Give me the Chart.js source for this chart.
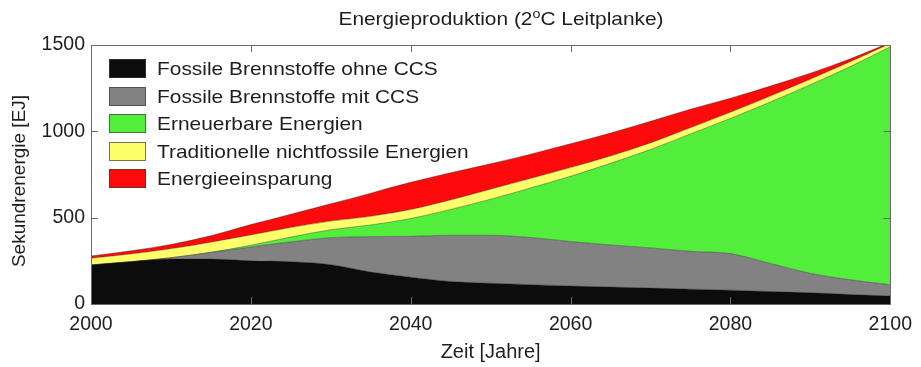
<!DOCTYPE html>
<html>
<head>
<meta charset="utf-8">
<script src="https://cdn.jsdelivr.net/npm/chart.js@4.4.1/dist/chart.umd.min.js"></script>
<style>
  html, body { margin: 0; padding: 0; background: #fff; }
  #wrap { width: 921px; height: 367px; }
</style>
</head>
<body>
<div id="wrap"><canvas id="c" width="921" height="367"></canvas></div>
<script>
// Secondary energy by source, EJ per year (stacked)
const years = [2000, 2005, 2010, 2015, 2020, 2025, 2030, 2035, 2040, 2045, 2050,
               2055, 2060, 2065, 2070, 2075, 2080, 2085, 2090, 2095, 2100];
const fossilOhneCCS = [226, 245, 260, 260, 250, 245, 228, 185, 155, 130, 120,
                       112, 104, 98, 92, 86, 80, 72, 65, 55, 46];
const fossilMitCCS  = [0, 0, 8, 38, 80, 115, 156, 205, 237, 268, 278,
                       273, 258, 244, 233, 219, 212, 163, 113, 85, 66];
const erneuerbar    = [0, 0, 0, 2, 10, 28, 46, 68, 103, 150, 209,
                       287, 378, 473, 570, 680, 783, 935, 1092, 1235, 1378];
const traditionell  = [39, 45, 52, 58, 60, 55, 50, 50, 52, 55, 58,
                       55, 50, 42, 38, 36, 35, 34, 32, 28, 18];
const einsparung    = [13, 18, 25, 37, 60, 77, 100, 134, 158, 157, 147,
                       141, 138, 133, 125, 107, 82, 58, 35, 17, 7];

const seriesNames = [
  'Fossile Brennstoffe ohne CCS',
  'Fossile Brennstoffe mit CCS',
  'Erneuerbare Energien',
  'Traditionelle nichtfossile Energien',
  'Energieeinsparung'
];
const seriesColors = ['#0c0c0c', '#828282', '#53ee3b', '#ffff6a', '#fe0a0a'];
const seriesValues = [fossilOhneCCS, fossilMitCCS, erneuerbar, traditionell, einsparung];

const xTicks = [2000, 2020, 2040, 2060, 2080, 2100];
const yTicks = [0, 500, 1000, 1500];

const FONT = '"Liberation Sans", Arial, Helvetica, sans-serif';
const TEXT = '#1e1e1e';

const datasets = seriesValues.map((vals, i) => ({
  label: seriesNames[i],
  data: years.map((yr, k) => ({ x: yr, y: vals[k] })),
  backgroundColor: seriesColors[i],
  borderColor: 'rgba(30,30,30,0.55)',
  borderWidth: 0.7,
  pointRadius: 0,
  fill: i === 0 ? 'origin' : '-1',
  cubicInterpolationMode: 'monotone'
}));

// Title with superscript "o" in 2°C, plus the rotated y-axis label
const titlePlugin = {
  id: 'plotTitle',
  afterDraw(chart) {
    const ctx = chart.ctx;
    const sx = 1.1;
    const parts = [
      { t: 'Energieproduktion (2', size: 19, dy: 0 },
      { t: 'o', size: 13, dy: -7 },
      { t: 'C Leitplanke)', size: 19, dy: 0 }
    ];
    ctx.save();
    let w = 0;
    parts.forEach(p => { ctx.font = p.size + 'px ' + FONT; p.w = ctx.measureText(p.t).width; w += p.w; });
    const cx = 501, base = 25;
    ctx.translate(cx - (w * sx) / 2, base);
    ctx.scale(sx, 1);
    ctx.fillStyle = TEXT;
    ctx.textBaseline = 'alphabetic';
    let x = 0;
    parts.forEach(p => {
      ctx.font = p.size + 'px ' + FONT;
      ctx.fillText(p.t, x, p.dy);
      x += p.w;
    });
    ctx.restore();

    ctx.save();
    ctx.translate(20, 181);
    ctx.rotate(-Math.PI / 2);
    ctx.font = '19px ' + FONT;
    ctx.fillStyle = TEXT;
    ctx.textAlign = 'center';
    ctx.textBaseline = 'middle';
    ctx.fillText('Sekundrenergie [EJ]', 0, 0);
    ctx.restore();
  }
};

// Axes box with inward tick marks on all four sides
const boxPlugin = {
  id: 'axesBox',
  afterDatasetsDraw(chart) {
    const { ctx, chartArea: a, scales } = chart;
    const len = 7;
    ctx.save();
    ctx.strokeStyle = '#6a6a6a';
    ctx.lineWidth = 1;
    ctx.beginPath();
    xTicks.forEach(v => {
      const px = Math.round(scales.x.getPixelForValue(v)) + 0.5;
      ctx.moveTo(px, a.bottom); ctx.lineTo(px, a.bottom - len);
      ctx.moveTo(px, a.top); ctx.lineTo(px, a.top + len);
    });
    yTicks.forEach(v => {
      const py = Math.round(scales.y.getPixelForValue(v)) + 0.5;
      ctx.moveTo(a.left, py); ctx.lineTo(a.left + len, py);
      ctx.moveTo(a.right, py); ctx.lineTo(a.right - len, py);
    });
    ctx.stroke();
    ctx.strokeRect(Math.round(a.left) + 0.5, Math.round(a.top) + 0.5,
                   Math.round(a.right - a.left), Math.round(a.bottom - a.top));
    ctx.restore();
  }
};

// Legend inside the axes, top-left
const legendPlugin = {
  id: 'innerLegend',
  afterDatasetsDraw(chart) {
    const ctx = chart.ctx;
    const x0 = 109, sw = 37, sh = 19, y0 = 59, step = 27.6, tx = 157, sx = 1.1;
    ctx.save();
    seriesNames.forEach((name, i) => {
      const y = Math.round(y0 + i * step);
      ctx.fillStyle = seriesColors[i];
      ctx.fillRect(x0, y, sw, sh);
      ctx.strokeStyle = 'rgba(60,60,60,0.7)';
      ctx.lineWidth = 1;
      ctx.strokeRect(x0 + 0.5, y + 0.5, sw - 1, sh - 1);
      ctx.save();
      ctx.translate(tx, y + sh / 2 + 1);
      ctx.scale(sx, 1);
      ctx.font = '19px ' + FONT;
      ctx.fillStyle = TEXT;
      ctx.textBaseline = 'middle';
      ctx.fillText(name, 0, 0);
      ctx.restore();
    });
    ctx.restore();
  }
};

new Chart(document.getElementById('c'), {
  type: 'line',
  data: { datasets },
  options: {
    responsive: false,
    animation: false,
    devicePixelRatio: 1,
    layout: { padding: { left: 0, top: 45, right: 24, bottom: 0 } },
    plugins: { legend: { display: false }, tooltip: { enabled: false }, title: { display: false } },
    elements: { line: { tension: 0 } },
    scales: {
      x: {
        type: 'linear',
        min: 2000, max: 2100,
        grid: { display: false, drawTicks: false },
        border: { display: false },
        afterBuildTicks: s => { s.ticks = xTicks.map(v => ({ value: v })); },
        afterFit: s => { s.height = 63; },
        ticks: {
          padding: 9,
          color: TEXT,
          font: { family: FONT, size: 19.5 },
          maxRotation: 0,
          callback: v => String(v)
        },
        title: {
          display: true, text: 'Zeit [Jahre]', color: TEXT,
          font: { family: FONT, size: 20 },
          padding: { top: 0, bottom: 3 }
        }
      },
      y: {
        type: 'linear',
        stacked: true,
        min: 0, max: 1500,
        grid: { display: false, drawTicks: false },
        border: { display: false },
        afterBuildTicks: s => { s.ticks = yTicks.map(v => ({ value: v })); },
        afterFit: s => { s.width = 91; },
        ticks: {
          padding: 6,
          color: TEXT,
          font: { family: FONT, size: 19.5 },
          callback: v => String(v)
        }
      }
    }
  },
  plugins: [titlePlugin, boxPlugin, legendPlugin]
});
</script>
</body>
</html>
